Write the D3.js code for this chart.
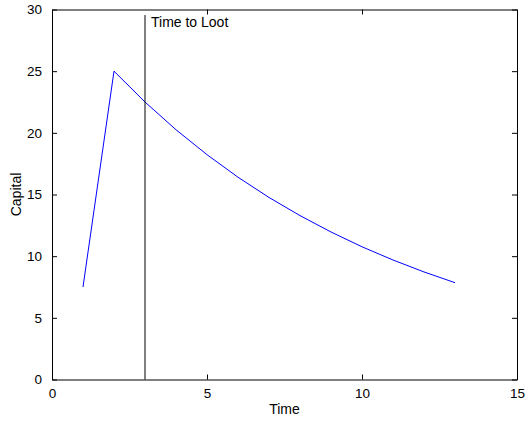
<!DOCTYPE html>
<meta charset="utf-8">
<style>
body { margin: 0; background: #fff; }
text {
  font-family: "Liberation Sans", Arial, sans-serif;
  font-size: 14px;
  fill: #000;
}
.axis path, .axis line { stroke: #000; }
</style>
<svg width="529" height="421"></svg>
<script src="https://cdn.jsdelivr.net/npm/d3@7"></script>
<script>

var time = [1, 2, 3, 4, 5, 6, 7, 8, 9, 10, 11, 12, 13];
var capital = [7.5, 25, 22.5, 20.25, 18.23, 16.4, 14.76, 13.29, 11.96, 10.76, 9.69, 8.72, 7.85];
var lootTime = 3;
var lootLabel = "Time to Loot";
var xTicks = [0, 5, 10, 15];
var yTicks = [0, 5, 10, 15, 20, 25, 30];

var svg = d3.select("svg"),
    mLeft = 52, mRight = 517, mTop = 9.5, mBottom = 379.5;

var x = d3.scaleLinear().domain([0, 15]).range([mLeft, mRight]);
var y = d3.scaleLinear().domain([0, 30]).range([mBottom, mTop]);

// ticks inside on all four sides, matlab style
svg.append("g").attr("class", "axis")
    .attr("transform", "translate(0," + mBottom + ")")
    .call(d3.axisBottom(x).tickValues(xTicks).tickSize(-5).tickPadding(9).tickSizeOuter(0));
svg.append("g").attr("class", "axis")
    .attr("transform", "translate(0," + mTop + ")")
    .call(d3.axisTop(x).tickValues(xTicks).tickSize(-5).tickSizeOuter(0).tickFormat(""));
svg.append("g").attr("class", "axis")
    .attr("transform", "translate(" + mLeft + ",0)")
    .call(d3.axisLeft(y).tickValues(yTicks).tickSize(-5).tickPadding(10).tickSizeOuter(0));
svg.append("g").attr("class", "axis")
    .attr("transform", "translate(" + mRight + ",0)")
    .call(d3.axisRight(y).tickValues(yTicks).tickSize(-5).tickSizeOuter(0).tickFormat(""));

svg.selectAll(".axis text").style("font-size", "13.5px").attr("fill", "#000");

var line = d3.line()
    .x(function(d, i) { return x(time[i]); })
    .y(function(d) { return y(d); });

svg.append("path")
    .datum(capital)
    .attr("d", line)
    .attr("fill", "none")
    .attr("stroke", "#0000ff")
    .attr("stroke-width", 1);

svg.append("line")
    .attr("x1", x(lootTime)).attr("x2", x(lootTime))
    .attr("y1", y(0)).attr("y2", y(29.55))
    .attr("stroke", "#000")
    .attr("stroke-width", 1);

svg.append("text")
    .attr("x", x(lootTime) + 6)
    .attr("y", y(29.55) + 12)
    .text(lootLabel);

svg.append("text")
    .attr("x", (mLeft + mRight) / 2)
    .attr("y", 414)
    .attr("text-anchor", "middle")
    .text("Time");

svg.append("text")
    .attr("transform", "translate(21," + (mTop + mBottom) / 2 + ") rotate(-90)")
    .attr("text-anchor", "middle")
    .text("Capital");

</script>
